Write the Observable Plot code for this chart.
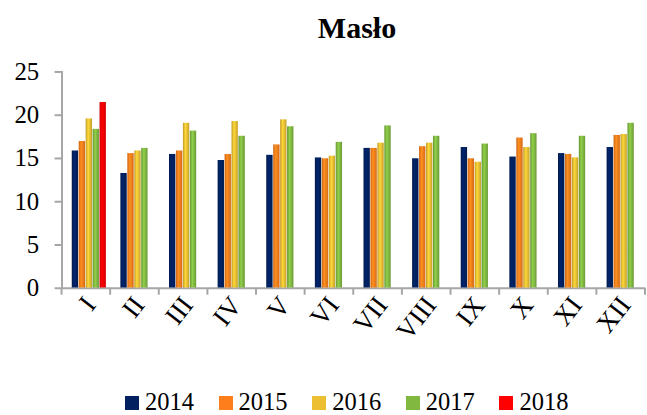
<!DOCTYPE html>
<html>
<head>
<meta charset="utf-8">
<script src="https://cdn.jsdelivr.net/npm/d3@7"></script>
<script src="https://cdn.jsdelivr.net/npm/@observablehq/plot@0.6"></script>
<style>
  body { margin: 0; background: #fff; width: 647px; height: 415px; overflow: hidden; position: relative; }
  #title { position: absolute; left: 0; top: 13px; width: 714px; text-align: center; font-family: "Liberation Serif", serif; font-weight: bold; font-size: 30px; line-height: 30px; z-index: 2; }
  #chart { position: absolute; left: 0; top: 0; }
  #legend { position: absolute; left: 125px; top: 390px; display: flex; font-family: "Liberation Serif", serif; font-size: 24.5px; line-height: 24px; }
  .item { display: flex; align-items: center; width: 93.6px; }
  .sw { width: 14px; height: 14px; margin-right: 6px; margin-top: 2px; }
</style>
</head>
<body>
<svg width="0" height="0" style="position:absolute">
  <defs id="defs"></defs>
</svg>
<div id="title">Masło</div>
<div id="chart"></div>
<div id="legend"></div>
<script>
const months = ["I","II","III","IV","V","VI","VII","VIII","IX","X","XI","XII"];
const years = ["2014","2015","2016","2017","2018"];
const colors = ["#00205f","#fd7e1b","#ecbf32","#80b840","#ff0000"];
const v2014 = [15.9,13.3,15.5,14.8,15.4,15.1,16.2,15.0,16.3,15.2,15.6,16.3];
const v2015 = [17.0,15.6,15.9,15.5,16.6,15.0,16.2,16.4,15.0,17.4,15.5,17.7];
const v2016 = [19.6,15.9,19.1,19.3,19.5,15.3,16.8,16.8,14.6,16.3,15.1,17.8];
const v2017 = [18.4,16.2,18.2,17.6,18.7,16.9,18.8,17.6,16.7,17.9,17.6,19.1];
const v2018 = [21.5];
const yTicks = [0,5,10,15,20,25];

const series = [v2014, v2015, v2016, v2017, v2018];
const data = [];
series.forEach((vals, i) => vals.forEach((v, j) => data.push({month: months[j], year: years[i], value: v})));

// cylinder-like gradients
const defs = d3.select("#defs");
years.forEach((y, i) => {
  const c = d3.color(colors[i]);
  const g = defs.append("linearGradient").attr("id", "g" + y).attr("x1", 0).attr("x2", 1).attr("y1", 0).attr("y2", 0);
  g.append("stop").attr("offset", "0%").attr("stop-color", c.darker(0.6));
  g.append("stop").attr("offset", "40%").attr("stop-color", c.brighter(0.35));
  g.append("stop").attr("offset", "100%").attr("stop-color", c.darker(0.5));
});

const plot = Plot.plot({
  width: 652,
  height: 372,
  marginTop: 72,
  marginBottom: 82,
  marginLeft: 60,
  marginRight: 0,
  style: {fontFamily: "'Liberation Serif', serif", color: "#000", background: "transparent", overflow: "visible"},
  fx: {domain: months, padding: 0, label: null},
  x: {domain: years, axis: null, paddingInner: 0, paddingOuter: 0.65},
  y: {domain: [0, 25], ticks: yTicks, label: null},
  color: {domain: years, range: years.map(y => `url(#g${y})`)},
  marks: [
    Plot.ruleY([0], {stroke: "#a6a6a6", strokeWidth: 2}),
    Plot.barY(data, {fx: "month", x: "year", y: "value", fill: "year", inset: 0.3, dx: 3}),
    Plot.frame({anchor: "left", facetAnchor: "left", stroke: "#a6a6a6", strokeWidth: 2}),
    Plot.axisY({ticks: yTicks, tickSize: 7, tickPadding: 16, fontSize: 25, stroke: "#a6a6a6", strokeWidth: 2, label: null}),
    Plot.axisFx({anchor: "bottom", tickRotate: -52, tickSize: 0, tickPadding: 12, fontSize: 27, dx: 4, label: null})
  ]
});
document.getElementById("chart").appendChild(plot);

const svg = d3.select(plot);
// month labels: larger serif text, rotated more steeply
svg.selectAll("text")
  .filter(function() { return months.includes(this.textContent); })
  .each(function() {
    const t = this.getAttribute("transform") || "";
    const nt = /rotate\(/.test(t) ? t.replace(/rotate\([^)]*\)/, "rotate(-52)") : (t + " rotate(-52)");
    this.setAttribute("transform", nt);
    this.setAttribute("text-anchor", "end");
    this.style.fontSize = "27px";
    this.style.fontFamily = "'Liberation Serif', serif";
  });

// boundary ticks under the x axis, placed with the fx scale
const fx = plot.scale("fx");
const y = plot.scale("y");
const y0 = y.apply(0);
const bounds = months.map(m => fx.apply(m)).concat([fx.apply(months[months.length - 1]) + fx.bandwidth]);
svg.append("g").selectAll("line").data(bounds).join("line")
  .attr("x1", d => d).attr("x2", d => d)
  .attr("y1", y0).attr("y2", y0 + 7)
  .attr("stroke", "#a6a6a6").attr("stroke-width", 2);

// legend
const legend = d3.select("#legend");
years.forEach((yr, i) => {
  const it = legend.append("div").attr("class", "item");
  it.append("div").attr("class", "sw").style("background", colors[i]);
  it.append("span").text(yr);
});
</script>
</body>
</html>
